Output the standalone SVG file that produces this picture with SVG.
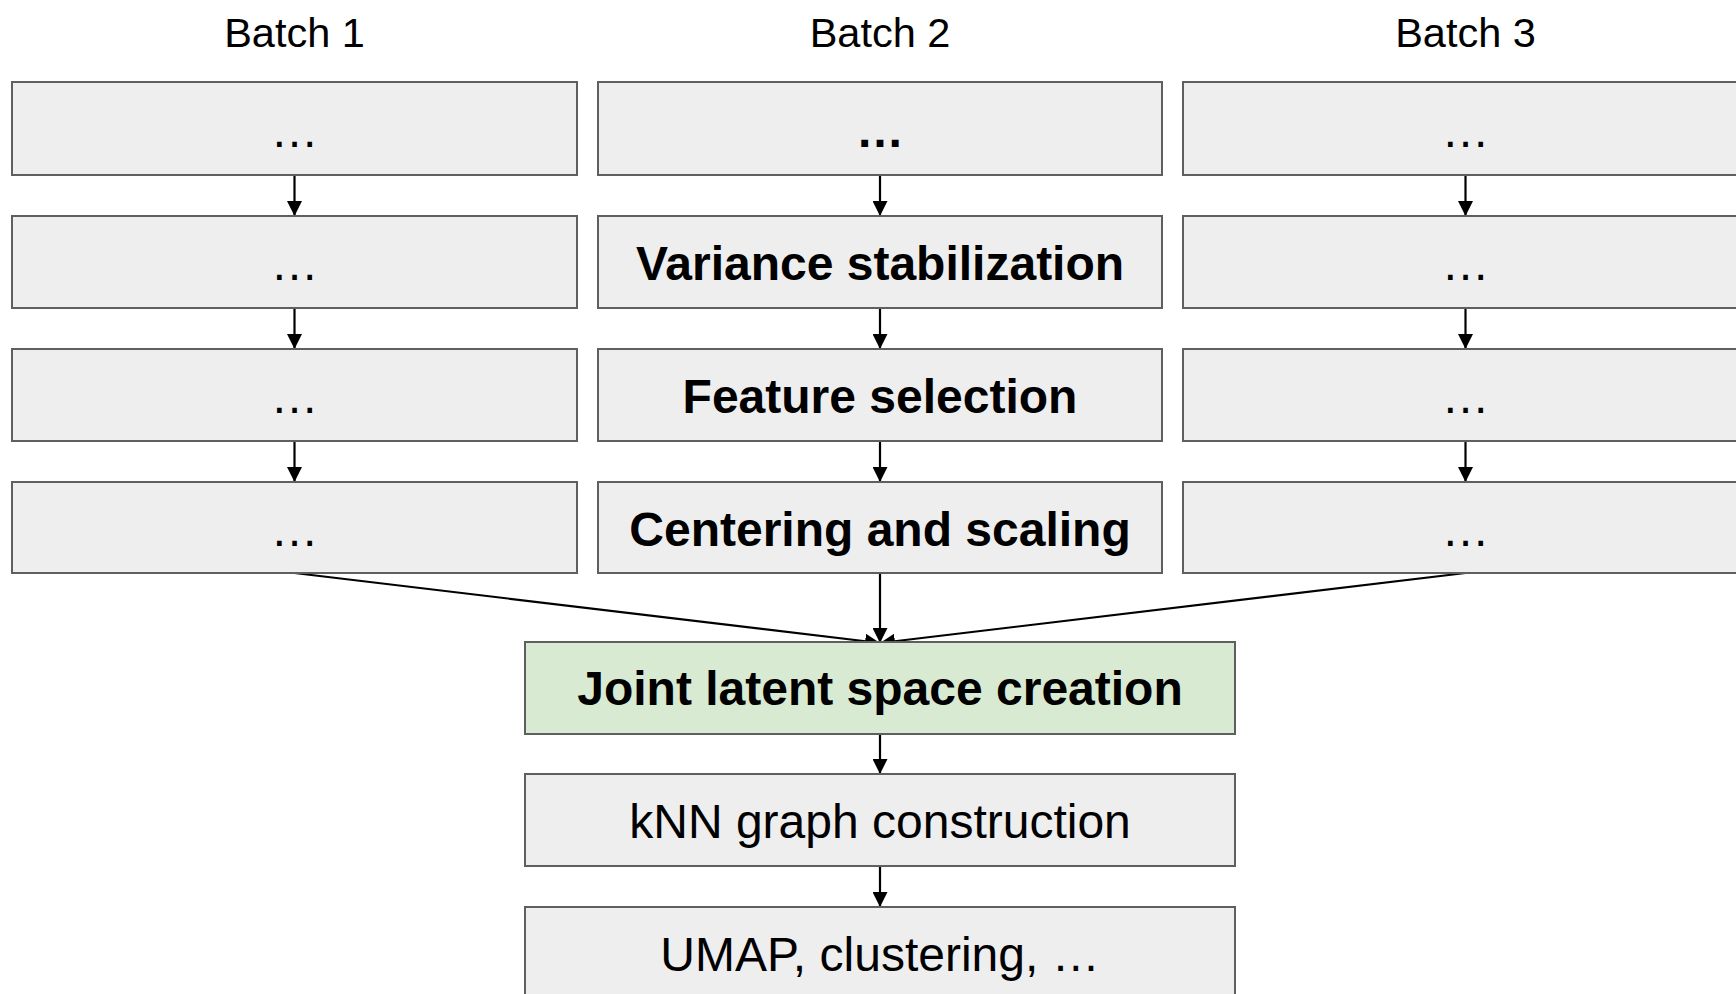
<svg xmlns="http://www.w3.org/2000/svg" width="1736" height="994" viewBox="0 0 1736 994">
<defs>
<style>
.box{fill:#eeeeee;stroke:#5f5f5f;stroke-width:2}
.green{fill:#d9ead3;stroke:#5f5f5f;stroke-width:2}
.t{font-family:"Liberation Sans",Arial,sans-serif;font-size:48px;fill:#000;text-anchor:middle}
.b{font-weight:bold}
.h{font-family:"Liberation Sans",Arial,sans-serif;font-size:41.5px;fill:#000;text-anchor:middle}
.c{stroke:#000;stroke-width:2.2;fill:none;marker-end:url(#ah)}
</style>
<marker id="ah" markerUnits="userSpaceOnUse" markerWidth="15" markerHeight="15" viewBox="0 0 15 15" refX="15" refY="7.5" orient="auto">
<path d="M0,0 L15,7.5 L0,15 z" fill="#000"/>
</marker>
</defs>
<rect width="1736" height="994" fill="#fff"/>
<g id="headers">
<text class="h" x="294.5" y="46.5">Batch 1</text>
<text class="h" x="880" y="46.5">Batch 2</text>
<text class="h" x="1465.5" y="46.5">Batch 3</text>
</g>
<g id="connectors">
<line class="c" x1="294.5" y1="175" x2="294.5" y2="216"/>
<line class="c" x1="294.5" y1="308" x2="294.5" y2="349"/>
<line class="c" x1="294.5" y1="441" x2="294.5" y2="482"/>
<line class="c" x1="880" y1="175" x2="880" y2="216"/>
<line class="c" x1="880" y1="308" x2="880" y2="349"/>
<line class="c" x1="880" y1="441" x2="880" y2="482"/>
<line class="c" x1="1465.5" y1="175" x2="1465.5" y2="216"/>
<line class="c" x1="1465.5" y1="308" x2="1465.5" y2="349"/>
<line class="c" x1="1465.5" y1="441" x2="1465.5" y2="482"/>
<line class="c" x1="294.5" y1="573" x2="880" y2="643"/>
<line class="c" x1="880" y1="573" x2="880" y2="643"/>
<line class="c" x1="1465.5" y1="573" x2="880" y2="643"/>
<line class="c" x1="880" y1="734" x2="880" y2="774"/>
<line class="c" x1="880" y1="866" x2="880" y2="907"/>
</g>
<g id="b1r1"><rect class="box" x="12" y="82" width="565" height="93"/><text class="t" x="294.5" y="146.5">…</text></g>
<g id="b1r2"><rect class="box" x="12" y="216" width="565" height="92"/><text class="t" x="294.5" y="280">…</text></g>
<g id="b1r3"><rect class="box" x="12" y="349" width="565" height="92"/><text class="t" x="294.5" y="413">…</text></g>
<g id="b1r4"><rect class="box" x="12" y="482" width="565" height="91"/><text class="t" x="294.5" y="545.5">…</text></g>
<g id="b2r1"><rect class="box" x="598" y="82" width="564" height="93"/><text class="t b" x="880" y="146.5">…</text></g>
<g id="b2r2"><rect class="box" x="598" y="216" width="564" height="92"/><text class="t b" x="880" y="280">Variance stabilization</text></g>
<g id="b2r3"><rect class="box" x="598" y="349" width="564" height="92"/><text class="t b" x="880" y="413">Feature selection</text></g>
<g id="b2r4"><rect class="box" x="598" y="482" width="564" height="91"/><text class="t b" x="880" y="545.5">Centering and scaling</text></g>
<g id="b3r1"><rect class="box" x="1183" y="82" width="565" height="93"/><text class="t" x="1465.5" y="146.5">…</text></g>
<g id="b3r2"><rect class="box" x="1183" y="216" width="565" height="92"/><text class="t" x="1465.5" y="280">…</text></g>
<g id="b3r3"><rect class="box" x="1183" y="349" width="565" height="92"/><text class="t" x="1465.5" y="413">…</text></g>
<g id="b3r4"><rect class="box" x="1183" y="482" width="565" height="91"/><text class="t" x="1465.5" y="545.5">…</text></g>
<g id="joint"><rect class="green" x="525" y="642" width="710" height="92"/><text class="t b" x="880" y="705">Joint latent space creation</text></g>
<g id="knn"><rect class="box" x="525" y="774" width="710" height="92"/><text class="t" x="880" y="838">kNN graph construction</text></g>
<g id="umap"><rect class="box" x="525" y="907" width="710" height="100"/><text class="t" x="880" y="971">UMAP, clustering, …</text></g>
</svg>
